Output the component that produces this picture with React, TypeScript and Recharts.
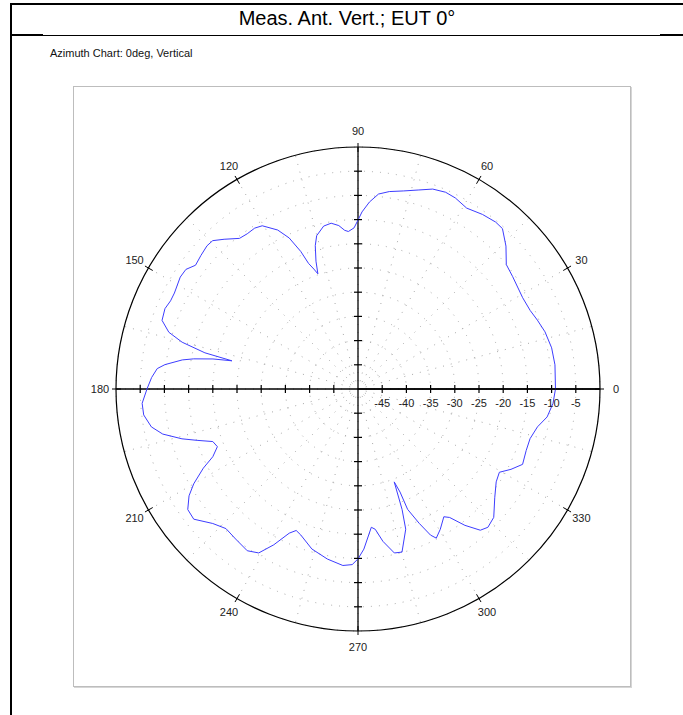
import { RadarChart, Radar, PolarGrid, PolarAngleAxis, PolarRadiusAxis } from 'recharts';

// azimuth (deg, counter-clockwise from 0 at the right) and level (dB), in trace order
const azimuth = [
  0, 7, 12, 17, 21, 24.5, 29, 36, 40, 44, 48, 50.5, 54.5, 59, 63, 66, 69.5, 73, 77, 81,
  84, 86.5, 88.7, 90, 91.4, 93.5, 94.8, 96.7, 99.2, 101.9, 105.1, 106.6, 108.2, 109.2, 110.2, 111.5, 112.6, 114.5, 116.8, 120.4,
  122.7, 125.5, 128.2, 131.8, 134.4, 136.5, 139.6, 142.7, 145.2, 147.8, 152.4, 154.8, 157.4, 160.7, 163.3, 165.1, 166.7, 167.4, 168.3, 169.6,
  170.6, 172.8, 174.2, 176.8, 180, 183.8, 186.9, 190.4, 193, 195.8, 197.7, 199.9, 202.3, 205, 207.1, 210, 212.3, 215.3, 218.4, 222.8,
  226.6, 230.8, 235.6, 238.8, 241.6, 244.5, 246.4, 248.6, 253.9, 259.8, 265.1, 268.1, 270, 272.1, 275.5, 277, 279.3, 282.5, 285.1, 288.8,
  290.1, 291.3, 292.2, 292.4, 294.5, 296.4, 297.7, 300.4, 303.9, 305.5, 308.1, 310.9, 313.2, 316.6, 321.5, 326.1, 329.5, 332.3, 335.4, 339.9,
  343.9, 348.1, 351.6, 355.8, 360,
];
const level = [
  -9.2, -9.0, -9.1, -9.6, -10.3, -10.9, -11.1, -10.5, -10.0, -7.5, -5.4, -5.3, -5.7, -6.4, -5.7, -5.5, -5.9, -7.0, -8.0, -8.7,
  -9.5, -11.3, -13.4, -15.1, -16.7, -17.4, -17.1, -16.0, -15.3, -15.6, -17.2, -19.1, -22.2, -24.8, -23.6, -22.1, -19.2, -15.7, -13.2, -10.9,
  -10.5, -10.6, -10.4, -8.5, -7.1, -7.0, -7.4, -7.8, -6.7, -6.6, -7.2, -7.2, -6.8, -7.1, -9.2, -12.4, -17.5, -23.3, -19.4, -15.5,
  -13.2, -9.8, -8.3, -7.3, -6.4, -5.3, -5.4, -6.6, -8.6, -12.2, -15.1, -18.1, -18.6, -16.9, -14.1, -10.8, -8.7, -6.9, -6.7, -9.1,
  -10.3, -10.0, -9.5, -10.4, -13.4, -17.0, -18.1, -17.6, -15.6, -14.3, -13.4, -13.7, -14.9, -16.9, -21.3, -20.8, -18.1, -15.3, -15.1, -19.4,
  -23.5, -29.4, -27.0, -23.1, -19.5, -16.3, -15.2, -16.4, -18.2, -17.4, -14.2, -11.4, -10.8, -11.4, -13.9, -15.6, -16.1, -14.3, -12.6, -13.0,
  -13.0, -12.1, -10.5, -9.6, -9.2,
];

const levelTicks = [-50, -45, -40, -35, -30, -25, -20, -15, -10, -5, 0];
const spokeAngles = [0, 15, 30, 45, 60, 75, 90, 105, 120, 135, 150, 165, 180, 195, 210, 225, 240, 255, 270, 285, 300, 315, 330, 345];
const crossAngles = [0, 90, 180, 270];
const labelAngles = [0, 30, 60, 90, 120, 150, 180, 210, 240, 270, 300, 330];

const TITLE = 'Meas. Ant. Vert.; EUT 0°';
const SUBTITLE = 'Azimuth Chart: 0deg, Vertical';

const rows = azimuth.map((deg, i) => ({ deg, level: level[i] }));

const FONT = '"Liberation Sans", Arial, sans-serif';

// level tick: cross marks on all four axis arms, label only on the 0° arm
const levelTick = (props: any) => {
  const { x, y, payload } = props;
  const v = payload.value;
  if (v === -50 || v === 0) return <g />;
  const r = payload.coordinate;
  const cx = x - r;
  const cy = y;
  return (
    <g stroke="#000" strokeWidth={1.2}>
      <line x1={cx + r} y1={cy - 4} x2={cx + r} y2={cy + 4} />
      <line x1={cx - r} y1={cy - 4} x2={cx - r} y2={cy + 4} />
      <line x1={cx - 4} y1={cy - r} x2={cx + 4} y2={cy - r} />
      <line x1={cx - 4} y1={cy + r} x2={cx + 4} y2={cy + r} />
      <text x={cx + r} y={cy + 14} stroke="none" textAnchor="middle" dominantBaseline="central" fontSize={11} fill="#222" fontFamily={FONT}>
        {v}
      </text>
    </g>
  );
};

const angleTick = (props: any) => {
  const { x, y, payload } = props;
  const a = (payload.coordinate * Math.PI) / 180;
  const dx = Math.cos(a);
  const dy = -Math.sin(a);
  return (
    <g>
      <line x1={x - 9 * dx} y1={y - 9 * dy} x2={x} y2={y} stroke="#000" strokeWidth={1} />
      <text x={x + 12 * dx} y={y + 12 * dy} textAnchor="middle" dominantBaseline="central" fontSize={11} fill="#222" fontFamily={FONT}>
        {payload.value}
      </text>
    </g>
  );
};

export default function App() {
  return (
    <div style={{ position: 'absolute', left: 0, top: 0, width: 683, height: 715, background: '#fff', fontFamily: FONT, overflow: 'hidden' }}>
      {/* page frame */}
      <div style={{ position: 'absolute', left: 10, top: 3, width: 673, height: 2, background: '#000' }} />
      <div style={{ position: 'absolute', left: 10, top: 3, width: 2, height: 712, background: '#000' }} />
      <div style={{ position: 'absolute', left: 10, top: 35, width: 673, height: 1, background: '#000' }} />
      <div style={{ position: 'absolute', left: 10, top: 34, width: 33, height: 2, background: '#000' }} />
      <div style={{ position: 'absolute', left: 660, top: 34, width: 23, height: 2, background: '#000' }} />
      <div style={{ position: 'absolute', left: 11, top: 6, width: 672, textAlign: 'center', fontSize: 20, lineHeight: '24px', color: '#000' }}>
        {TITLE}
      </div>
      <div style={{ position: 'absolute', left: 50, top: 46, fontSize: 11, lineHeight: '14px', color: '#111' }}>{SUBTITLE}</div>

      <div
        style={{
          position: 'absolute', left: 73, top: 86, width: 556, height: 599,
          border: '1px solid #bdbdbd', boxShadow: '1px 1px 0 #d6d6d6',
        }}
      >
        <RadarChart
          width={556}
          height={599}
          data={rows}
          cx={284}
          cy={302}
          innerRadius={0}
          outerRadius={242}
          startAngle={0}
          endAngle={360}
          margin={{ top: 0, right: 0, bottom: 0, left: 0 }}
        >
          <PolarAngleAxis angleAxisId="a" dataKey="deg" type="number" domain={[0, 360]} ticks={spokeAngles} tick={false} tickLine={false} axisLine={false} />
          <PolarAngleAxis angleAxisId="cross" dataKey="deg" type="number" domain={[0, 360]} ticks={crossAngles} tick={false} tickLine={false} axisLine={false} />
          <PolarAngleAxis
            angleAxisId="lab" dataKey="deg" type="number" domain={[0, 360]} ticks={labelAngles}
            tick={angleTick} tickLine={false} tickSize={4} axisLineType="circle" axisLine={{ stroke: '#000', strokeWidth: 1.2 }}
          />
          <PolarRadiusAxis radiusAxisId="r0" angle={0} type="number" domain={[-50, 0]} ticks={levelTicks} tick={levelTick} axisLine={{ stroke: '#000', strokeWidth: 1.3 }} />
          <PolarGrid gridType="circle" angleAxisId="a" radiusAxisId="r0" stroke="#a8a8a8" strokeDasharray="1 7" />
          <PolarGrid gridType="circle" angleAxisId="cross" radiusAxisId="r0" polarRadius={[]} stroke="#000" strokeWidth={1.3} />
          <Radar
            angleAxisId="a" radiusAxisId="r0" dataKey="level" stroke="#3d3dff" strokeWidth={1}
            fill="none" fillOpacity={0} dot={false} isAnimationActive={false}
          />
        </RadarChart>
      </div>
    </div>
  );
}
